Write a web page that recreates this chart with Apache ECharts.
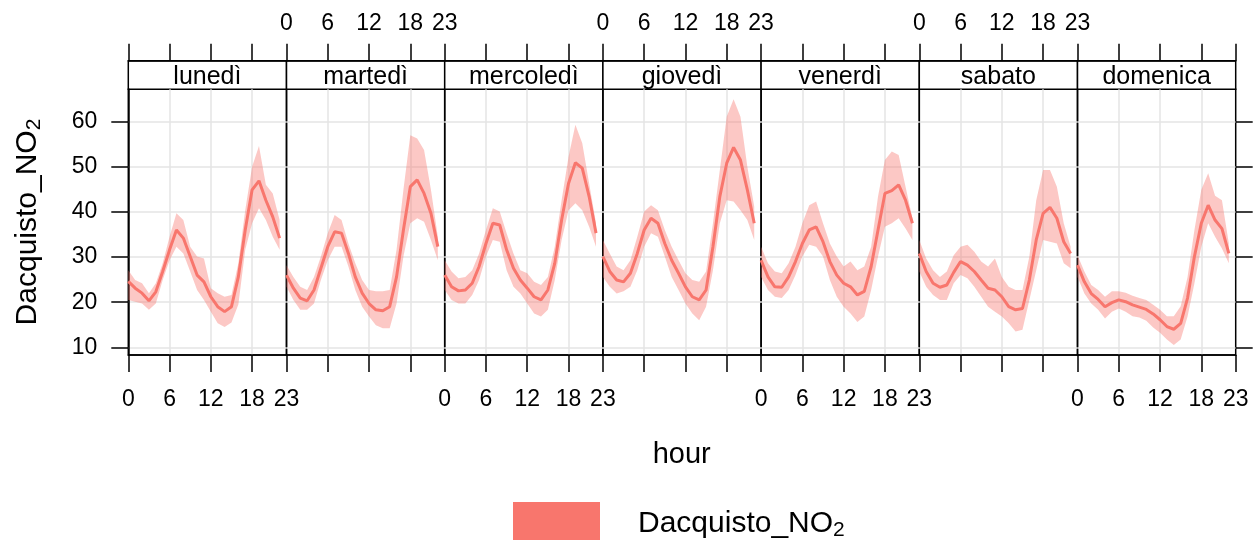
<!DOCTYPE html>
<html>
<head>
<meta charset="utf-8">
<script src="https://cdn.jsdelivr.net/npm/echarts@6/dist/echarts.min.js"></script>
<style>
  html, body { margin: 0; padding: 0; background: #ffffff; }
  #chart { width: 1257px; height: 540px; }
</style>
</head>
<body>
<div id="chart"></div>
<script>
// Hour-of-day categories shared by every weekday panel
const hours = ['0','1','2','3','4','5','6','7','8','9','10','11','12','13','14','15','16','17','18','19','20','21','22','23'];
const hourTicks = [0, 6, 12, 18, 23];
const hourGrid = [6, 12, 18];
const valueTicks = [10, 20, 30, 40, 50, 60];
const days = ['lunedì', 'martedì', 'mercoledì', 'giovedì', 'venerdì', 'sabato', 'domenica'];
const pollutant = 'Dacquisto_NO';   // subscript "2" appended when drawn

// Mean hourly NO2 and its confidence interval, one trio per weekday (hours 0-22)
const lunediMean  = [24.6, 23.1, 22.0, 20.3, 22.3, 26.8, 31.6, 36.0, 34.2, 30.1, 26.0, 24.5, 21.2, 19.0, 17.9, 19.0, 25.6, 36.0, 44.9, 46.9, 42.6, 38.9, 34.2];
const lunediLower = [20.5, 20.1, 19.7, 18.3, 19.7, 24.9, 29.3, 32.3, 30.8, 26.8, 22.7, 20.5, 17.9, 15.3, 14.5, 15.5, 19.5, 31.6, 37.5, 40.8, 38.2, 34.5, 31.6];
const lunediUpper = [27.1, 24.9, 24.2, 22.0, 24.2, 28.6, 34.5, 39.7, 38.2, 32.3, 30.1, 29.7, 23.1, 22.0, 21.2, 21.6, 28.6, 40.4, 50.0, 54.6, 46.0, 44.1, 38.2];

const martediMean  = [26.0, 23.1, 20.9, 20.3, 22.7, 27.5, 32.3, 35.6, 35.3, 30.8, 25.6, 22.0, 19.7, 18.3, 18.1, 19.0, 25.6, 36.0, 45.6, 47.1, 44.1, 39.7, 32.3];
const martediLower = [23.4, 20.5, 18.3, 18.3, 19.7, 24.9, 29.3, 32.3, 32.3, 27.9, 22.7, 19.0, 16.8, 14.9, 14.2, 14.2, 19.7, 30.1, 37.5, 38.6, 37.8, 33.8, 29.3];
const martediUpper = [28.2, 25.6, 23.4, 22.7, 25.6, 30.1, 35.3, 39.3, 38.2, 33.0, 28.6, 24.9, 22.7, 22.4, 22.4, 22.7, 31.6, 44.9, 57.0, 56.3, 53.7, 44.9, 34.5];

const mercolediMean  = [26.0, 23.4, 22.5, 22.7, 24.2, 27.9, 33.0, 37.5, 37.1, 31.6, 27.5, 24.9, 23.1, 21.2, 20.5, 22.7, 28.6, 38.2, 46.3, 50.9, 49.7, 43.4, 35.3];
const mercolediLower = [22.7, 20.5, 19.7, 19.7, 21.6, 24.9, 30.1, 33.8, 33.4, 27.1, 23.4, 21.9, 19.7, 17.5, 16.8, 18.3, 24.9, 33.8, 40.4, 41.9, 40.4, 36.7, 32.3];
const mercolediUpper = [29.3, 26.8, 25.3, 25.6, 27.1, 30.8, 36.0, 40.8, 40.1, 35.3, 30.8, 27.1, 26.4, 24.5, 23.8, 25.6, 32.3, 42.6, 52.2, 59.3, 55.2, 46.3, 37.5];

const giovediMean  = [30.1, 26.8, 24.9, 24.5, 26.4, 30.8, 36.0, 38.6, 37.5, 33.0, 29.3, 26.4, 23.4, 21.2, 20.5, 22.7, 32.3, 43.4, 50.8, 54.3, 51.5, 44.9, 37.5];
const giovediLower = [25.6, 23.4, 21.9, 22.4, 23.4, 27.1, 32.3, 35.3, 34.5, 30.1, 25.6, 22.7, 19.7, 17.5, 16.0, 19.0, 27.1, 37.5, 42.6, 42.3, 40.4, 38.2, 33.8];
const giovediUpper = [33.8, 30.8, 27.9, 27.1, 29.3, 34.5, 40.1, 41.5, 40.4, 36.0, 32.3, 29.3, 26.4, 24.9, 24.5, 26.8, 37.5, 49.3, 61.1, 65.0, 61.1, 50.0, 41.2];

const venerdiMean  = [29.3, 25.6, 23.4, 23.3, 25.6, 29.0, 33.0, 36.0, 36.7, 33.4, 29.0, 26.0, 24.2, 23.4, 21.6, 22.4, 27.9, 36.0, 44.1, 44.7, 46.0, 42.6, 37.5];
const venerdiLower = [25.6, 22.7, 21.2, 20.9, 22.7, 26.0, 30.1, 32.7, 32.3, 30.1, 24.9, 21.2, 19.0, 17.5, 15.6, 16.8, 22.7, 30.1, 36.7, 37.5, 38.6, 36.3, 33.8];
const venerdiUpper = [32.3, 28.6, 26.8, 26.4, 28.6, 32.3, 37.5, 41.5, 42.3, 37.5, 33.0, 30.1, 27.9, 29.0, 27.1, 27.9, 32.3, 43.4, 51.5, 53.4, 52.6, 45.6, 38.6];

const sabatoMean  = [30.8, 26.8, 24.2, 23.3, 23.8, 26.6, 29.0, 28.2, 26.8, 24.9, 23.1, 22.7, 21.2, 19.0, 18.3, 18.6, 24.9, 33.8, 39.7, 41.0, 38.6, 33.4, 30.8];
const sabatoLower = [26.8, 23.4, 21.6, 20.5, 20.5, 24.2, 26.0, 25.3, 23.4, 21.2, 19.0, 17.9, 16.8, 15.3, 13.5, 13.9, 20.5, 27.1, 33.8, 33.4, 33.0, 28.6, 27.5];
const sabatoUpper = [33.8, 29.7, 27.1, 25.6, 26.8, 30.4, 32.3, 32.7, 31.2, 29.0, 27.9, 29.7, 25.6, 23.4, 22.7, 22.7, 30.1, 42.6, 49.3, 49.3, 45.6, 37.5, 32.3];

const domenicaMean  = [28.2, 24.5, 21.9, 20.6, 19.0, 19.9, 20.5, 20.1, 19.4, 18.9, 18.4, 17.4, 16.1, 14.6, 14.0, 15.3, 20.9, 30.1, 37.5, 41.5, 38.2, 36.3, 30.8];
const domenicaLower = [25.6, 21.9, 19.7, 18.3, 16.4, 17.9, 18.6, 17.9, 16.9, 16.6, 15.9, 14.4, 13.2, 11.7, 10.5, 11.7, 16.8, 24.2, 32.3, 37.5, 34.5, 31.9, 28.6];
const domenicaUpper = [30.4, 26.8, 23.8, 22.7, 21.2, 22.4, 22.4, 22.1, 21.4, 20.9, 20.5, 19.4, 18.3, 16.9, 16.9, 19.1, 25.6, 36.0, 44.9, 48.6, 43.6, 42.6, 33.0];

const dayMeans  = [lunediMean, martediMean, mercolediMean, giovediMean, venerdiMean, sabatoMean, domenicaMean];
const dayLowers = [lunediLower, martediLower, mercolediLower, giovediLower, venerdiLower, sabatoLower, domenicaLower];
const dayUppers = [lunediUpper, martediUpper, mercolediUpper, giovediUpper, venerdiUpper, sabatoUpper, domenicaUpper];

// Panel geometry (pixels) and shared styling
const PANEL_LEFT = 128.3, PANEL_W = 158.2, PANEL_TOP = 89.3, PANEL_H = 265.7, STRIP_H = 28.6;
const Y_MIN = 8.29, Y_MAX = 67.18;
const FONT = '"Liberation Sans", Arial, sans-serif';
const INK = '#000000';
const FRAME_W = 1.5;
const GRID_COLOR = '#e4e4e4';
const LINE_COLOR = '#F8766D';
const BAND_COLOR = 'rgba(248,118,109,0.4)';

const isHourTick = (idx) => hourTicks.indexOf(idx) !== -1;
const isHourGrid = (idx) => hourGrid.indexOf(idx) !== -1;

const grids = [], xAxes = [], yAxes = [], series = [], graphics = [];

days.forEach((day, i) => {
  const left = PANEL_LEFT + i * PANEL_W;
  grids.push({
    left: left, top: PANEL_TOP, width: PANEL_W, height: PANEL_H,
    show: true, borderColor: INK, borderWidth: FRAME_W, backgroundColor: 'transparent'
  });

  const baseX = {
    gridIndex: i, type: 'category', data: hours, boundaryGap: false,
    axisLine: { show: true, lineStyle: { color: INK, width: FRAME_W } },
    axisTick: { show: true, inside: false, length: 17, interval: isHourTick, lineStyle: { color: INK, width: FRAME_W } }
  };
  // bottom hour axis
  xAxes.push(Object.assign({}, baseX, {
    position: 'bottom',
    axisLabel: { show: i % 2 === 0, interval: isHourTick, margin: 33, fontSize: 23, color: INK, fontFamily: FONT },
    splitLine: { show: true, interval: isHourGrid, lineStyle: { color: GRID_COLOR, width: 1.5 } }
  }));
  // top hour axis, sitting above the strip
  xAxes.push(Object.assign({}, baseX, {
    position: 'top', offset: STRIP_H,
    axisLabel: { show: i % 2 === 1, interval: isHourTick, margin: 26, fontSize: 23, color: INK, fontFamily: FONT },
    splitLine: { show: false }
  }));

  yAxes.push({
    gridIndex: i, type: 'value', position: 'left', min: Y_MIN, max: Y_MAX,
    axisLine: { show: i === 0, lineStyle: { color: INK, width: FRAME_W } },
    axisTick: { show: i === 0, inside: false, length: 17, customValues: valueTicks, lineStyle: { color: INK, width: FRAME_W } },
    axisLabel: { show: i === 0, customValues: valueTicks, margin: 31, fontSize: 23, color: INK, fontFamily: FONT },
    splitLine: { show: true, lineStyle: { color: GRID_COLOR, width: 1.5 } }
  });

  const stackId = 'ci' + i;
  series.push({
    type: 'line', xAxisIndex: 2 * i, yAxisIndex: i, stack: stackId,
    data: dayLowers[i], symbol: 'none', silent: true,
    lineStyle: { opacity: 0 }
  });
  series.push({
    type: 'line', xAxisIndex: 2 * i, yAxisIndex: i, stack: stackId,
    data: dayUppers[i].map((u, h) => +(u - dayLowers[i][h]).toFixed(2)),
    symbol: 'none', silent: true,
    lineStyle: { opacity: 0 },
    areaStyle: { color: BAND_COLOR, opacity: 1 }
  });
  series.push({
    type: 'line', xAxisIndex: 2 * i, yAxisIndex: i, name: pollutant + '2',
    data: dayMeans[i], symbol: 'none', silent: true,
    lineStyle: { color: LINE_COLOR, width: 3 }
  });

  // strip with the weekday name
  graphics.push({
    type: 'rect', silent: true,
    shape: { x: left, y: PANEL_TOP - STRIP_H, width: PANEL_W, height: STRIP_H },
    style: { fill: '#ffffff', stroke: INK, lineWidth: FRAME_W }
  });
  graphics.push({
    type: 'text', silent: true, x: left + PANEL_W / 2, y: 77.5,
    style: { text: day, fill: INK, font: '25px ' + FONT, align: 'center', verticalAlign: 'middle' }
  });
});

// tick marks on the right edge of the last panel
yAxes.push({
  gridIndex: 6, type: 'value', position: 'right', min: Y_MIN, max: Y_MAX,
  axisLine: { show: false },
  axisTick: { show: true, inside: false, length: 17, customValues: valueTicks, lineStyle: { color: INK, width: FRAME_W } },
  axisLabel: { show: false },
  splitLine: { show: false }
});

const subRich = {
  a: { fontSize: 30, fontFamily: FONT, color: INK, lineHeight: 34 },
  b: { fontSize: 21, fontFamily: FONT, color: INK, lineHeight: 21, verticalAlign: 'bottom' }
};

// y-axis title
graphics.push({
  type: 'text', silent: true, x: 27.4, y: 222, rotation: Math.PI / 2,
  style: { text: '{a|' + pollutant + '}{b|2}', rich: subRich, align: 'center', verticalAlign: 'middle' }
});
// x-axis title
graphics.push({
  type: 'text', silent: true, x: 681.7, y: 455,
  style: { text: 'hour', fill: INK, font: '29px ' + FONT, align: 'center', verticalAlign: 'middle' }
});
// key
graphics.push({
  type: 'rect', silent: true,
  shape: { x: 513, y: 502, width: 87, height: 40 },
  style: { fill: LINE_COLOR }
});
graphics.push({
  type: 'text', silent: true, x: 638, y: 523.7,
  style: { text: '{a|' + pollutant + '}{b|2}', rich: subRich, align: 'left', verticalAlign: 'middle' }
});

const chart = echarts.init(document.getElementById('chart'), null, { renderer: 'canvas' });
chart.setOption({
  animation: false,
  backgroundColor: '#ffffff',
  grid: grids,
  xAxis: xAxes,
  yAxis: yAxes,
  series: series,
  graphic: graphics
});
</script>
</body>
</html>
